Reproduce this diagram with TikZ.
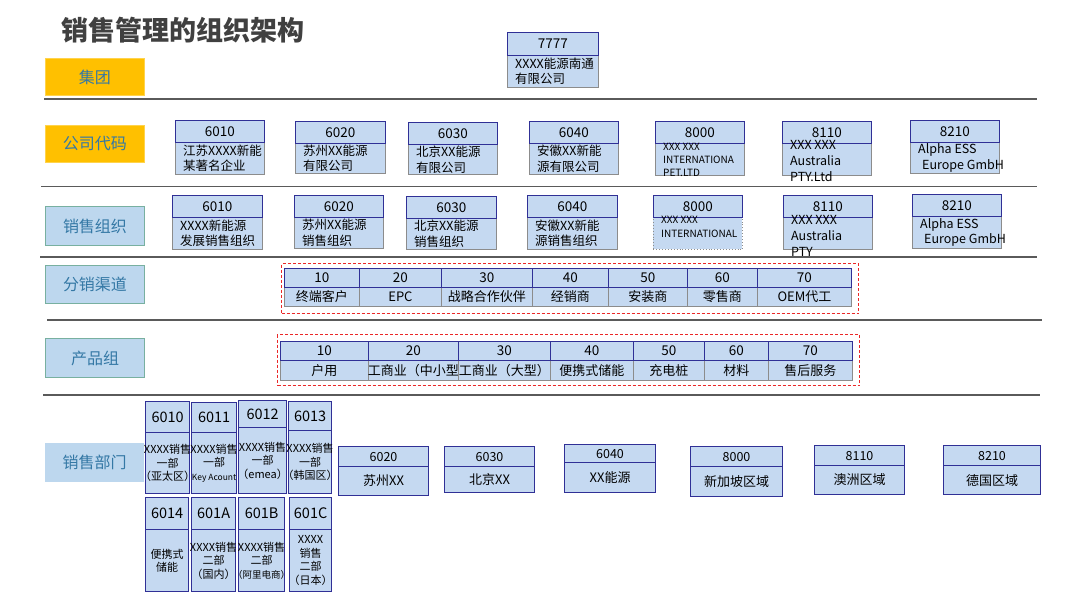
\documentclass[tikz,border=0pt]{standalone}
\usepackage{fontspec}
\setmainfont{Noto Sans CJK SC}
\usetikzlibrary{calc}
\definecolor{hfill}{RGB}{197,217,241}
\definecolor{hdline}{RGB}{48,48,150}
\definecolor{bdline}{RGB}{140,140,140}
\definecolor{labtxt}{RGB}{52,120,165}
\definecolor{goldbox}{RGB}{255,192,0}
\definecolor{labfill}{RGB}{189,215,238}
\definecolor{labline}{RGB}{120,176,160}
\definecolor{sepline}{RGB}{90,90,90}
\definecolor{titletxt}{RGB}{64,64,64}
\definecolor{grpred}{RGB}{235,40,40}
\def\bdanchor{center}
% #1 extra styles, #2 name, #3 x1, #4 x2, #5 ytop, #6 ysplit, #7 ybottom, #8 header, #9 body
\newcommand\cell[9][]{%
  \begin{scope}[#1]
  \node[bd,bdx,minimum width={(#4-#3)*1pt},minimum height={(#7-#6)*1pt}] (#2b) at (#3,#6) {};
  \node[hd,hdx,minimum width={(#4-#3)*1pt},minimum height={(#6-#5)*1pt}] (#2h) at (#3,#5) {#8};
  \node[bdt,tx] (#2t) at (#2b.\bdanchor) {#9};
  \end{scope}}
\begin{document}
\begin{tikzpicture}[x=1pt,y=-1pt,
  lab/.style={minimum width=99pt,minimum height=38pt,inner sep=0pt,anchor=north west,text=labtxt,font=\fontsize{16}{18}\selectfont},
  gold/.style={lab,fill=goldbox,draw=goldbox!70!white,line width=0.8pt},
  bluelab/.style={lab,fill=labfill,draw=labline,line width=1pt},
  hd/.style={draw=hdline,fill=hfill,line width=0.9pt,inner sep=0pt,anchor=north west,font=\fontsize{13.5}{15}\selectfont},
  bd/.style={draw=bdline,fill=hfill,line width=0.9pt,inner sep=0pt,anchor=north west},
  bdt/.style={inner sep=0pt,align=center,font=\fontsize{13}{15}\selectfont},
  bdx/.style={},hdx/.style={},tx/.style={},
  sep/.style={draw=sepline,line width=1.3pt},
  grp/.style={draw=grpred,dash pattern=on 3pt off 2pt,line width=1pt,inner sep=0pt,anchor=north west}
]
\useasboundingbox (0,0) rectangle (1080,608);
\fill[white] (0,0) rectangle (1080,608);

% title
\node[anchor=west,inner sep=0pt,text=titletxt,font=\fontsize{27}{30}\selectfont\bfseries] (title) at (61,30) {销售管理的组织架构};

% row labels
\node[gold,minimum height=37pt] (jt) at (45,58) {集团};
\node[gold,minimum height=37pt] (gsdm) at (45,125) {公司代码};
\node[bluelab,minimum height=39pt] (xszz) at (45,206) {销售组织};
\node[bluelab] (fxqd) at (45,265) {分销渠道};
\node[bluelab,minimum height=39pt] (cpz) at (45,338) {产品组};
\node[lab,fill=labfill,minimum height=39pt] (xsbm) at (45,443) {销售部门};

% separators
\coordinate (s1a) at (44,99);  \coordinate (s1b) at (1037,99);
\coordinate (s2a) at (41,186.5); \coordinate (s2b) at (1037,186.5);
\coordinate (s3a) at (40,257); \coordinate (s3b) at (1037,257);
\coordinate (s4a) at (47,320); \coordinate (s4b) at (1042,320);
\coordinate (s5a) at (43,395); \coordinate (s5b) at (1040,395);
\draw[sep] (s1a) -- (s1b);
\draw[sep] (s2a) -- (s2b);
\draw[sep] (s3a) -- (s3b);
\draw[sep] (s4a) -- (s4b);
\draw[sep] (s5a) -- (s5b);

% group 7777 and company codes / sales orgs (left-aligned body text)
\begin{scope}[bdt/.style={inner sep=0pt,anchor=west,xshift=8pt,align=left,font=\fontsize{12.5}{15.5}\selectfont}]
\def\bdanchor{west}
\cell{g7777}{507}{598}{32}{55}{87}{7777}{XXXX能源南通\\有限公司}

\cell{c6010}{175}{264}{120}{142}{174}{6010}{江苏XXXX新能\\某著名企业}
\cell{c6020}{295}{385}{121}{143}{173}{6020}{苏州XX能源\\有限公司}
\cell{c6030}{408}{497}{122}{144}{174}{6030}{北京XX能源\\有限公司}
\cell{c6040}{529}{618}{121}{143}{174}{6040}{安徽XX新能\\源有限公司}
\cell[tx/.style={font=\fontsize{10}{13}\selectfont}]{c8000}{655}{744}{121}{143}{175}{8000}{XXX XXX\\INTERNATIONA\\PET.LTD}
\cell[tx/.style={font=\fontsize{12.5}{16}\selectfont,yshift=-2pt}]{c8110}{782}{871}{121}{143}{175}{8110}{XXX XXX\\Australia\\PTY.Ltd}
\cell{c8210}{910}{999}{120}{142}{173}{8210}{Alpha ESS\\\hspace*{4pt}Europe GmbH}

\cell{o6010}{172}{262}{195}{217}{249}{6010}{XXXX新能源\\发展销售组织}
\cell{o6020}{294}{383}{195}{217}{248}{6020}{苏州XX能源\\销售组织}
\cell{o6030}{406}{496}{196}{218}{249}{6030}{北京XX能源\\销售组织}
\cell{o6040}{527}{617}{195}{217}{249}{6040}{安徽XX新能\\源销售组织}
\cell[bdx/.style={dotted},tx/.style={font=\fontsize{10}{14}\selectfont,yshift=7pt}]{o8000}{653}{742}{195}{217}{249}{8000}{XXX XXX\\INTERNATIONAL}
\cell[tx/.style={font=\fontsize{12.5}{16}\selectfont,yshift=-2pt}]{o8110}{783}{872}{195}{217}{249}{8110}{XXX XXX\\Australia\\PTY}
\cell{o8210}{912}{1001}{194}{216}{248}{8210}{Alpha ESS\\\hspace*{4pt}Europe GmbH}
\end{scope}

% distribution channels
\node[grp,minimum width=577pt,minimum height=50pt] (chgrp) at (281,263) {};
\cell{ch10}{284}{359}{268}{287}{306}{10}{终端客户}
\cell{ch20}{359}{441}{268}{287}{306}{20}{EPC}
\cell{ch30}{441}{532}{268}{287}{306}{30}{战略合作伙伴}
\cell{ch40}{532}{608}{268}{287}{306}{40}{经销商}
\cell{ch50}{608}{687}{268}{287}{306}{50}{安装商}
\cell{ch60}{687}{757}{268}{287}{306}{60}{零售商}
\cell{ch70}{757}{851}{268}{287}{306}{70}{OEM代工}

% product groups
\node[grp,minimum width=582pt,minimum height=51pt] (pggrp) at (277,334) {};
\cell{pg10}{280}{368}{341}{360}{380}{10}{户用}
\cell{pg20}{368}{458}{341}{360}{380}{20}{工商业（中小型}
\cell{pg30}{458}{550}{341}{360}{380}{30}{工商业（大型）}
\cell{pg40}{550}{633}{341}{360}{380}{40}{便携式储能}
\cell{pg50}{633}{704}{341}{360}{380}{50}{充电桩}
\cell{pg60}{704}{768}{341}{360}{380}{60}{材料}
\cell{pg70}{768}{852}{341}{360}{380}{70}{售后服务}

% sales departments, cluster
\begin{scope}[bd/.append style={draw=hdline,line width=1.2pt},hd/.append style={line width=1.2pt,font=\fontsize{14.5}{16}\selectfont},
  bdt/.style={inner sep=0pt,align=center,font=\fontsize{11}{13.5}\selectfont}]
\cell{d6010}{145}{189}{401}{432}{493}{6010}{XXXX销售\\一部\\（亚太区）}
\cell{d6011}{191}{236}{402}{432}{493}{6011}{XXXX销售\\一部\\{\fontsize{8.5}{10}\selectfont Key Acount}}
\cell{d6012}{238}{286}{400}{427}{493}{6012}{XXXX销售\\一部\\（emea）}
\cell{d6013}{288}{331}{401}{430}{493}{6013}{XXXX销售\\一部\\（韩国区）}
\cell{d6014}{145}{188}{497}{529}{591}{6014}{便携式\\储能}
\cell{d601A}{191}{235}{497}{529}{591}{601A}{XXXX销售\\二部\\（国内）}
\cell{d601B}{238}{284}{497}{529}{591}{601B}{XXXX销售\\二部\\{\fontsize{9.5}{11}\selectfont （阿里电商）}}
\cell{d601C}{289}{331}{497}{529}{591}{601C}{XXXX\\销售\\二部\\（日本）}
\end{scope}

% sales departments, regions
\begin{scope}[bd/.append style={draw=hdline,line width=1.1pt},hd/.append style={line width=1.1pt,font=\fontsize{12.5}{15}\selectfont},
  bdt/.style={inner sep=0pt,align=center,font=\fontsize{13}{15}\selectfont}]
\cell{r6020}{338}{428}{446}{466}{495}{6020}{苏州XX}
\cell{r6030}{444}{534}{446}{466}{492}{6030}{北京XX}
\cell{r6040}{564}{655}{444}{462}{492}{6040}{XX能源}
\cell{r8000}{690}{782}{446}{466}{496}{8000}{新加坡区域}
\cell{r8110}{814}{904}{445}{465}{494}{8110}{澳洲区域}
\cell{r8210}{943}{1040}{445}{465}{494}{8210}{德国区域}
\end{scope}
\end{tikzpicture}
\end{document}
